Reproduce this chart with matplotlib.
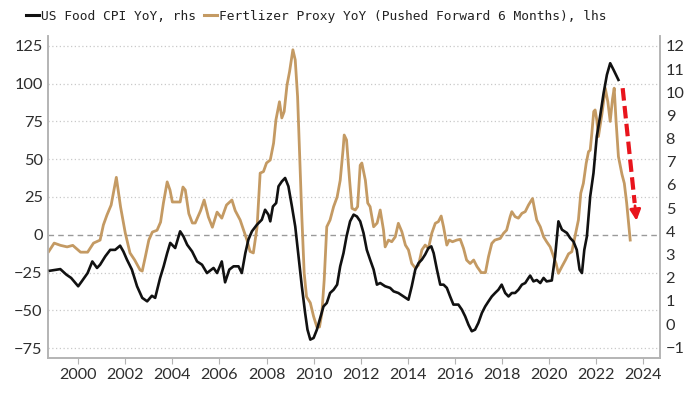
import matplotlib
matplotlib.use("Agg")
import matplotlib.pyplot as plt
from matplotlib.lines import Line2D

# fertilizer proxy yoy (%), pushed forward 6 months -> left axis
fert_dates = [1998.75, 1998.98, 1999.25, 1999.53, 1999.77, 2000.1, 2000.4, 2000.65, 2000.93, 2001.07,
              2001.22, 2001.4, 2001.62, 2001.8, 2002.0, 2002.2, 2002.4, 2002.63, 2002.72, 2002.85,
              2003.0, 2003.15, 2003.35, 2003.5, 2003.62, 2003.78, 2003.9, 2004.0, 2004.33, 2004.45,
              2004.55, 2004.7, 2004.85, 2004.97, 2005.2, 2005.35, 2005.53, 2005.7, 2005.9, 2006.1,
              2006.3, 2006.53, 2006.67, 2006.88, 2007.17, 2007.3, 2007.44, 2007.6, 2007.73, 2007.87,
              2008.0, 2008.16, 2008.3, 2008.4, 2008.55, 2008.65, 2008.75, 2008.87, 2008.98, 2009.12,
              2009.22, 2009.32, 2009.4, 2009.5, 2009.6, 2009.7, 2009.86, 2010.0, 2010.14, 2010.25,
              2010.35, 2010.45, 2010.56, 2010.7, 2010.85, 2011.0, 2011.13, 2011.25, 2011.3, 2011.4,
              2011.53, 2011.63, 2011.77, 2011.87, 2011.98, 2012.05, 2012.2, 2012.3, 2012.4, 2012.55,
              2012.7, 2012.83, 2012.97, 2013.04, 2013.18, 2013.32, 2013.47, 2013.6, 2013.75, 2013.9,
              2014.03, 2014.17, 2014.32, 2014.46, 2014.6, 2014.74, 2014.88, 2015.02, 2015.17, 2015.3,
              2015.42, 2015.52, 2015.66, 2015.76, 2015.9, 2016.08, 2016.23, 2016.37, 2016.5, 2016.65,
              2016.8, 2016.94, 2017.12, 2017.3, 2017.43, 2017.57, 2017.7, 2017.93, 2018.07, 2018.2,
              2018.35, 2018.42, 2018.56, 2018.7, 2018.85, 2018.99, 2019.13, 2019.3, 2019.38, 2019.48,
              2019.63, 2019.77, 2019.9, 2020.05, 2020.2, 2020.3, 2020.4, 2020.55, 2020.7, 2020.83,
              2020.97, 2021.1, 2021.25, 2021.35, 2021.46, 2021.58, 2021.68, 2021.75, 2021.82, 2021.9,
              2021.96, 2022.03, 2022.1, 2022.25, 2022.39, 2022.5, 2022.6, 2022.7, 2022.77, 2022.85,
              2022.95, 2023.1, 2023.2, 2023.3, 2023.45]
fert_vals = [-11, -5.5, -7, -8, -7, -11.5, -11.5, -5.5, -3.5, 6.5,
             13, 19.7, 38, 18.4, 1.2, -12, -16.7, -23.3, -24, -14.7,
             -3.5, 1.8, 3, 8.4, 21, 35, 29.6, 21.7, 21.7, 31.6,
             29.6, 14, 7.8, 7.8, 16, 23, 11.8, 5, 15, 11,
             19.7, 23, 16, 9.8, -3.5, -11, -12, 5.3, 40.8, 41.8,
             47.5, 49.5, 60.6, 76, 88, 77.3, 81.5, 99, 108, 122.4,
             115.7, 91.4, 56, 12, -25.3, -41, -45, -54, -61, -61,
             -52, -30, 5.3, 9.8, 18.6, 25, 36, 56, 66, 62.7,
             36, 17.5, 16.4, 18.6, 46, 47.5, 36, 21, 18.6, 5.3,
             7.8, 16.4, 3.1, -8, -3.5, -4.6, -1.3, 7.6, 2, -6.8,
             -10, -19, -22, -20, -10, -6.8, -9, 1, 7.6, 8.7,
             12.4, 5.3, -6.8, -3.5, -4.6, -3.5, -3, -9, -16.7, -19,
             -16.7, -21, -25, -25, -14.5, -5.7, -3.5, -2.4, 1, 3.1,
             12, 15.3, 12, 11, 14.2, 15.3, 19.7, 24, 17.5, 9.8,
             5.3, -1.3, -4.6, -8, -14.5, -19, -25.5, -21, -16.7, -12.6,
             -11.2, -1.3, 9.8, 27.5, 34, 47.3, 55, 56, 67, 81.5,
             82.6, 76, 65, 80, 97, 88, 75, 90, 97, 75,
             51.7, 40, 34, 21, -3.5]

# us food cpi yoy (%) -> right axis
cpi_dates = [1998.8, 1999.1, 1999.24, 1999.5, 1999.7, 2000.0, 2000.15, 2000.4, 2000.6, 2000.8,
             2000.93, 2001.15, 2001.36, 2001.57, 2001.78, 2001.92, 2002.07, 2002.28, 2002.5, 2002.72,
             2002.93, 2003.13, 2003.27, 2003.48, 2003.63, 2003.78, 2003.91, 2004.12, 2004.33, 2004.47,
             2004.63, 2004.84, 2005.05, 2005.26, 2005.47, 2005.75, 2005.9, 2006.1, 2006.24, 2006.42,
             2006.6, 2006.81, 2006.95, 2007.1, 2007.23, 2007.38, 2007.59, 2007.8, 2007.94, 2008.08,
             2008.16, 2008.27, 2008.41, 2008.51, 2008.65, 2008.79, 2008.93, 2009.08, 2009.22, 2009.36,
             2009.5, 2009.64, 2009.74, 2009.86, 2010.0, 2010.14, 2010.28, 2010.42, 2010.56, 2010.7,
             2010.85, 2011.0, 2011.13, 2011.27, 2011.4, 2011.55, 2011.7, 2011.84, 2011.98, 2012.12,
             2012.26, 2012.4, 2012.55, 2012.69, 2012.83, 2013.04, 2013.25, 2013.4, 2013.6, 2013.82,
             2014.03, 2014.17, 2014.32, 2014.46, 2014.6, 2014.74, 2014.88, 2015.0, 2015.1, 2015.24,
             2015.38, 2015.52, 2015.66, 2015.8, 2015.94, 2016.15, 2016.3, 2016.44, 2016.58, 2016.72,
             2016.86, 2017.0, 2017.15, 2017.29, 2017.43, 2017.57, 2017.71, 2017.85, 2017.99, 2018.14,
             2018.28, 2018.42, 2018.56, 2018.7, 2018.85, 2018.99, 2019.13, 2019.2, 2019.34, 2019.48,
             2019.63, 2019.77, 2019.9, 2020.12, 2020.26, 2020.4, 2020.55, 2020.76, 2020.9, 2021.04,
             2021.18, 2021.3, 2021.4, 2021.5, 2021.61, 2021.75, 2021.89, 2022.03, 2022.17, 2022.32,
             2022.46, 2022.6, 2022.74, 2022.95]
cpi_vals = [2.3, 2.35, 2.37, 2.13, 1.99, 1.63, 1.84, 2.2, 2.7, 2.42,
            2.56, 2.92, 3.2, 3.2, 3.38, 3.13, 2.78, 2.35, 1.63, 1.13,
            0.98, 1.22, 1.13, 1.99, 2.49, 3.06, 3.5, 3.28, 4.0, 3.78,
            3.42, 3.13, 2.7, 2.56, 2.2, 2.42, 2.2, 2.7, 1.8, 2.35,
            2.49, 2.49, 2.2, 3.06, 3.64, 4.0, 4.28, 4.5, 4.93, 4.72,
            4.43, 5.07, 5.22, 5.94, 6.15, 6.3, 5.94, 5.07, 4.21, 2.92,
            1.63, 0.48, -0.24, -0.67, -0.6, -0.24, 0.26, 0.76, 0.91, 1.34,
            1.48, 1.7, 2.49, 3.06, 3.78, 4.43, 4.72, 4.64, 4.43, 3.93,
            3.2, 2.78, 2.35, 1.7, 1.77, 1.63, 1.56, 1.41, 1.34, 1.19,
            1.05, 1.63, 2.35, 2.63, 2.78, 3.0, 3.28, 3.35, 3.06, 2.35,
            1.7, 1.7, 1.56, 1.19, 0.84, 0.84, 0.62, 0.33, -0.03, -0.31,
            -0.24, 0.05, 0.48, 0.76, 0.98, 1.19, 1.34, 1.48, 1.7, 1.34,
            1.19, 1.34, 1.34, 1.48, 1.7, 1.77, 1.99, 2.09, 1.84, 1.9,
            1.77, 1.99, 1.84, 1.88, 2.92, 4.43, 4.07, 3.93, 3.71, 3.56,
            3.2, 2.35, 2.2, 3.2, 3.78, 5.5, 6.51, 8.09, 8.95, 9.96,
            10.75, 11.25, 10.97, 10.53]

left_ticks = [125, 100, 75, 50, 25, 0, -25, -50, -75]
right_ticks = list(range(-1, 13))
year_ticks = list(range(2000, 2025, 2))

ORANGE = "#c49a63"
BLACK = "#111111"
GRID = "#c9c9c9"
SPINE = "#b4b4b4"
TXT = "#2e2e2e"

fig = plt.figure(figsize=(7, 3.94), dpi=100)
ax = fig.add_axes([0.069, 0.091, 0.874, 0.818])
ax2 = ax.twinx()

for y in left_ticks:
    if y == 0:
        ax.axhline(y, color="#9a9a9a", lw=1.0, ls=(0, (4, 3)), zorder=1)
    else:
        ax.axhline(y, color=GRID, lw=0.9, ls=(0, (1, 2)), zorder=1)

ax.plot(fert_dates, fert_vals, color=ORANGE, lw=2.0, zorder=3)
ax2.plot(cpi_dates, cpi_vals, color=BLACK, lw=1.9, zorder=3)

# red dashed arrow pointing down
ax.plot([2023.13, 2023.64], [97, 21], color="#e8141c", lw=3, ls=(0, (3, 1.3)),
        solid_capstyle="butt", zorder=5)
ax.annotate("", xy=(2023.73, 7.5), xytext=(2023.64, 21),
            arrowprops=dict(arrowstyle="-|>", color="#e8141c", lw=2, mutation_scale=16),
            zorder=5)

ax.set_xlim(1998.73, 2024.72)
ax.set_ylim(-81.6, 131.6)
ax2.set_ylim(-1.47, 12.43)

ax.set_xticks(year_ticks)
ax.set_yticks(left_ticks)
ax2.set_yticks(right_ticks)

for a in (ax, ax2):
    a.spines["top"].set_visible(False)
    for s in ("left", "right", "bottom"):
        a.spines[s].set_color(SPINE)
        a.spines[s].set_linewidth(1.2)

ax.tick_params(axis="x", length=4, color=SPINE, labelsize=11.6, labelcolor=TXT, pad=3)
ax.tick_params(axis="y", length=0, labelsize=11.8, labelcolor=TXT, pad=4)
ax2.tick_params(axis="y", length=0, labelsize=11.8, labelcolor=TXT, pad=4)
for lab in ax.get_xticklabels() + ax.get_yticklabels() + ax2.get_yticklabels():
    lab.set_family("Lato")

handles = [Line2D([], [], color=BLACK, lw=2.2), Line2D([], [], color=ORANGE, lw=2.2)]
labels = ["US Food CPI YoY, rhs", "Fertlizer Proxy YoY (Pushed Forward 6 Months), lhs"]
fig.legend(handles, labels, loc="upper left", bbox_to_anchor=(0.02, 1.005), ncol=2,
           frameon=False, handlelength=1.0, handletextpad=0.2, columnspacing=0.6,
           prop={"family": "DejaVu Sans Mono", "size": 9.3}, labelcolor="#222222")

fig.savefig("out.png", dpi=100)
